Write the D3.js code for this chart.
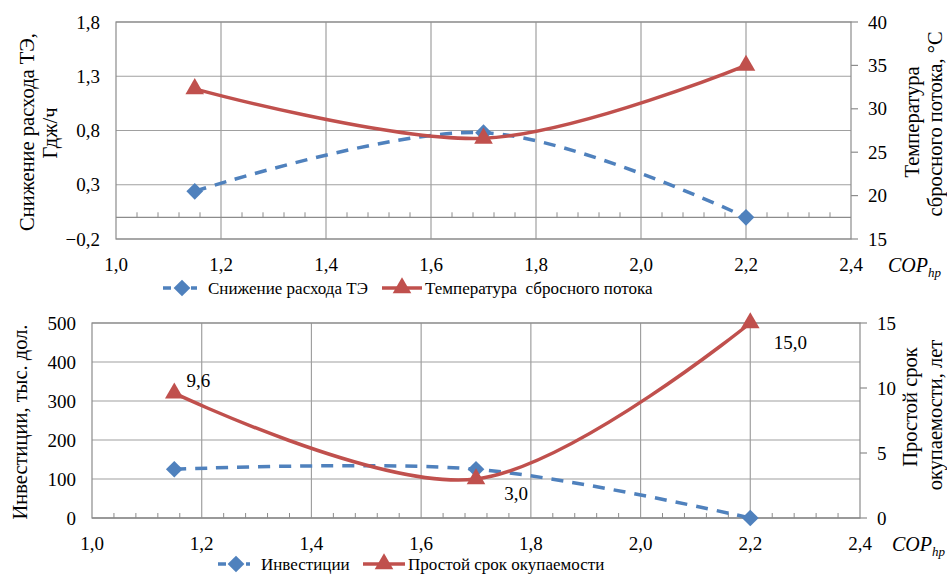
<!DOCTYPE html>
<html>
<head>
<meta charset="utf-8">
<script src="https://cdn.jsdelivr.net/npm/d3@7"></script>
<style>
  body { margin: 0; background: #fff; }
</style>
</head>
<body>
<svg id="chart" width="947" height="575"></svg>
<script>
// données
const copTop = [1.15, 1.7, 2.2];
const teSaving = [0.24, 0.78, 0.0];          // Снижение расхода ТЭ, ГДж/ч
const dischargeTemp = [32.3, 26.6, 35.0];    // Температура сбросного потока, °C

const copBottom = [1.15, 1.7, 2.2];
const investment = [125, 125, 0];            // Инвестиции, тыс. дол.
const payback = [9.6, 3.0, 15.0];            // Простой срок окупаемости, лет
const paybackLabels = ["9,6", "3,0", "15,0"];

const xTicks = [1.0, 1.2, 1.4, 1.6, 1.8, 2.0, 2.2, 2.4];
const topLeftTicks = [-0.2, 0.3, 0.8, 1.3, 1.8];
const topRightTicks = [15, 20, 25, 30, 35, 40];
const botLeftTicks = [0, 100, 200, 300, 400, 500];
const botRightTicks = [0, 5, 10, 15];

const BLUE = "#4f81bd", RED = "#c0504d", GRID = "#a0a0a0";
const comma = v => d3.format(".1f")(v).replace(".", ",").replace("-", "–");

const svg = d3.select("#chart")
    .attr("font-family", "'Liberation Serif', 'DejaVu Serif', 'Times New Roman', serif");

function drawPanel(p) {
    const g = svg.append("g");
    const x = d3.scaleLinear().domain([1.0, 2.4]).range([p.left, p.right]);
    const yL = d3.scaleLinear().domain(p.leftDomain).range([p.bottom, p.top]);
    const yR = d3.scaleLinear().domain(p.rightDomain).range([p.bottom, p.top]);

    // grille verticale
    g.selectAll(".vgrid").data(xTicks.slice(1, -1)).enter().append("line")
        .attr("x1", d => x(d)).attr("x2", d => x(d))
        .attr("y1", p.top).attr("y2", p.bottom)
        .attr("stroke", GRID).attr("stroke-width", 1.2);

    // grille horizontale
    g.selectAll(".hgrid").data(p.leftTicks).enter().append("line")
        .attr("x1", p.left).attr("x2", p.right)
        .attr("y1", d => yL(d)).attr("y2", d => yL(d))
        .attr("stroke", GRID).attr("stroke-width", 1.2);

    // cadre
    g.append("rect")
        .attr("x", p.left).attr("y", p.top)
        .attr("width", p.right - p.left).attr("height", p.bottom - p.top)
        .attr("fill", "none").attr("stroke", "#8c8c8c").attr("stroke-width", 1.2);

    // axe x à y = 0 avec petites graduations
    const y0 = yL(0);
    g.append("line").attr("x1", p.left).attr("x2", p.right)
        .attr("y1", y0).attr("y2", y0).attr("stroke", "#8c8c8c").attr("stroke-width", 1.2);
    const minor = d3.range(0, 36).map(i => 1.0 + i * 0.04).filter(v => Math.abs((v * 5) - Math.round(v * 5)) > 0.01);
    g.selectAll(".minor").data(minor).enter().append("line")
        .attr("x1", d => x(d)).attr("x2", d => x(d))
        .attr("y1", y0).attr("y2", y0 - 5)
        .attr("stroke", "#8c8c8c").attr("stroke-width", 1);

    // graduations de droite
    g.selectAll(".rtick").data(p.rightTicks).enter().append("line")
        .attr("x1", p.right).attr("x2", p.right + 7)
        .attr("y1", d => yR(d)).attr("y2", d => yR(d))
        .attr("stroke", "#8c8c8c").attr("stroke-width", 1.2);

    // étiquettes
    g.selectAll(".xl").data(xTicks).enter().append("text")
        .attr("x", d => x(d)).attr("y", p.bottom + 32)
        .attr("text-anchor", "middle").attr("font-size", 19)
        .text(d => comma(d));
    g.selectAll(".yl").data(p.leftTicks).enter().append("text")
        .attr("x", p.left - 16).attr("y", d => yL(d)).attr("dy", "0.35em")
        .attr("text-anchor", "end").attr("font-size", 19)
        .text(p.leftFmt);
    g.selectAll(".yr").data(p.rightTicks).enter().append("text")
        .attr("x", p.right + 17).attr("y", d => yR(d)).attr("dy", "0.35em")
        .attr("text-anchor", "start").attr("font-size", 19)
        .text(d => d);

    // COP_hp
    const cop = g.append("text").attr("x", p.copX).attr("y", p.bottom + 33)
        .attr("font-size", 20).attr("font-style", "italic");
    cop.append("tspan").text("COP");
    cop.append("tspan").attr("font-size", 13).attr("dy", 5).text("hp");

    // titres des axes
    p.leftTitle.concat(p.rightTitle).forEach(t => {
        g.append("text")
            .attr("transform", `translate(${t.x},${t.y}) rotate(-90)`)
            .attr("dy", "0.35em").attr("text-anchor", "middle").attr("font-size", 20.5)
            .text(t.text);
    });

    // courbes lissées
    const blueLine = d3.line().x((d, i) => x(p.xs[i])).y(d => yL(d)).curve(d3.curveCardinal.tension(0));
    const redLine = d3.line().x((d, i) => x(p.xs[i])).y(d => yR(d)).curve(d3.curveCardinal.tension(0));

    g.append("path").attr("d", blueLine(p.blue))
        .attr("fill", "none").attr("stroke", BLUE).attr("stroke-width", 3.5)
        .attr("stroke-dasharray", "12,9");
    g.append("path").attr("d", redLine(p.red))
        .attr("fill", "none").attr("stroke", RED).attr("stroke-width", 3.5);

    const diamond = d3.symbol().type(d3.symbolSquare).size(140);
    const triangle = d3.symbol().type(d3.symbolTriangle).size(150);

    g.selectAll(".bm").data(p.blue).enter().append("path")
        .attr("d", diamond)
        .attr("transform", (d, i) => `translate(${x(p.xs[i])},${yL(d)}) rotate(45)`)
        .attr("fill", BLUE);
    g.selectAll(".rm").data(p.red).enter().append("path")
        .attr("d", triangle)
        .attr("transform", (d, i) => `translate(${x(p.xs[i])},${yR(d)})`)
        .attr("fill", RED);

    if (p.redLabels) {
        g.selectAll(".lab").data(p.red).enter().append("text")
            .attr("x", (d, i) => x(p.xs[i]) + p.labelOffsets[i][0])
            .attr("y", (d, i) => yR(d) + p.labelOffsets[i][1])
            .attr("dy", "0.35em").attr("text-anchor", "middle").attr("font-size", 19)
            .text((d, i) => p.redLabels[i]);
    }

    // légende
    const ly = p.legend.y;
    const lb = p.legend;
    g.append("line").attr("x1", lb.b0).attr("x2", lb.b1).attr("y1", ly).attr("y2", ly)
        .attr("stroke", BLUE).attr("stroke-width", 3.5).attr("stroke-dasharray", "8,6");
    g.append("path").attr("d", diamond).attr("transform", `translate(${(lb.b0 + lb.b1) / 2 + 2},${ly}) rotate(45)`).attr("fill", BLUE);
    g.append("text").attr("x", lb.b1 + 11).attr("y", ly).attr("dy", "0.35em")
        .attr("font-size", 17).text(lb.blueText);
    g.append("line").attr("x1", lb.r0).attr("x2", lb.r1).attr("y1", ly).attr("y2", ly)
        .attr("stroke", RED).attr("stroke-width", 3.5);
    g.append("path").attr("d", triangle).attr("transform", `translate(${(lb.r0 + lb.r1) / 2},${ly})`).attr("fill", RED);
    g.append("text").attr("x", lb.r1 + 3).attr("y", ly).attr("dy", "0.35em")
        .attr("font-size", 17).attr("xml:space", "preserve").text(lb.redText);
}

drawPanel({
    left: 116, right: 851, top: 22, bottom: 239,
    leftDomain: [-0.2, 1.8], rightDomain: [15, 40],
    leftTicks: topLeftTicks, rightTicks: topRightTicks,
    leftFmt: d => comma(d),
    xs: copTop, blue: teSaving, red: dischargeTemp,
    copX: 888,
    leftTitle: [
        { text: "Снижение расхода ТЭ,", x: 27, y: 132 },
        { text: "Гдж/ч", x: 50, y: 133 }
    ],
    rightTitle: [
        { text: "Температура", x: 912, y: 122 },
        { text: "сбросного потока, °С", x: 935, y: 124 }
    ],
    legend: { y: 288, b0: 163, b1: 197, r0: 382, r1: 422,
        blueText: "Снижение расхода ТЭ", redText: "Температура  сбросного потока" }
});

drawPanel({
    left: 92, right: 860, top: 323, bottom: 518,
    leftDomain: [0, 500], rightDomain: [0, 15],
    leftTicks: botLeftTicks, rightTicks: botRightTicks,
    leftFmt: d => d,
    xs: copBottom, blue: investment, red: payback,
    redLabels: paybackLabels,
    labelOffsets: [[24, -13], [40, 14], [40, 19]],
    copX: 892,
    leftTitle: [
        { text: "Инвестиции, тыс. дол.", x: 20, y: 422 }
    ],
    rightTitle: [
        { text: "Простой срок", x: 910, y: 407 },
        { text: "окупаемости, лет", x: 935, y: 415 }
    ],
    legend: { y: 564, b0: 218, b1: 250, r0: 363, r1: 405,
        blueText: "Инвестиции", redText: "Простой срок окупаемости" }
});
</script>
</body>
</html>
